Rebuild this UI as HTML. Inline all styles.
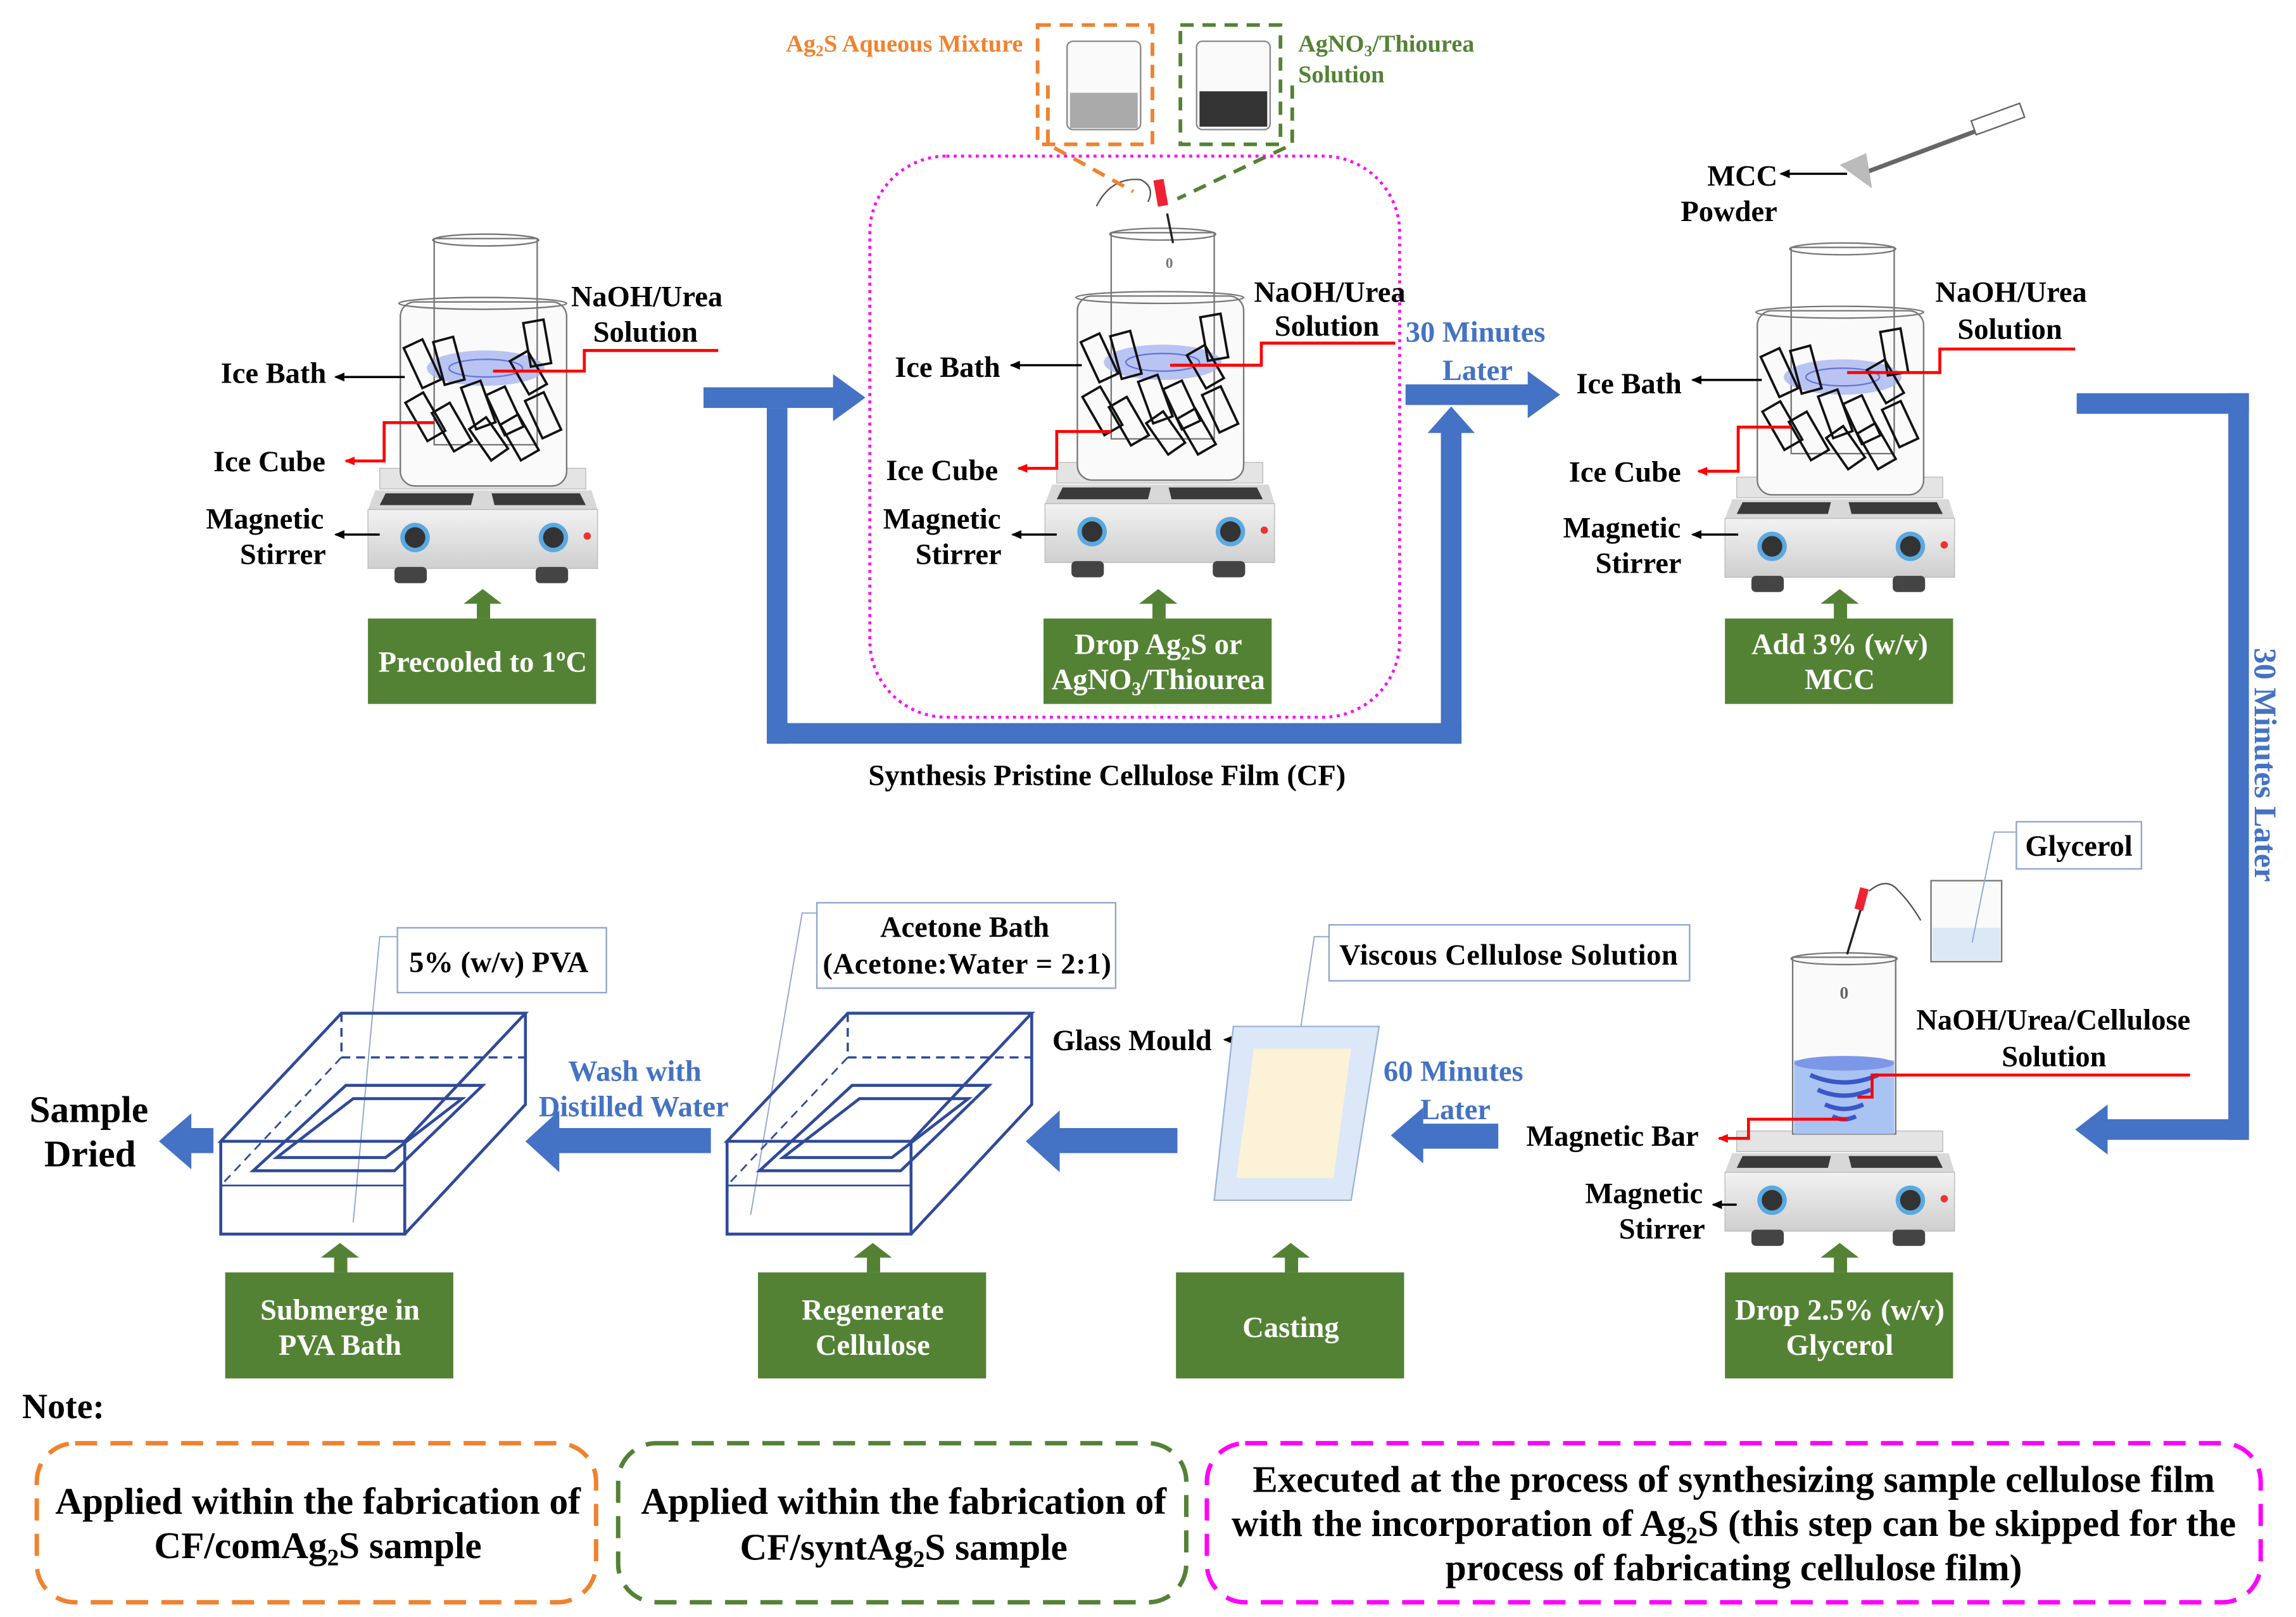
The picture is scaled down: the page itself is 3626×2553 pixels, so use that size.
<!DOCTYPE html>
<html><head><meta charset="utf-8"><style>
html,body{margin:0;padding:0;background:#fff}
svg{display:block}
text{font-family:"Liberation Serif",serif;font-weight:bold}
</style></head><body>
<svg width="3626" height="2553" viewBox="0 0 1560 1098" preserveAspectRatio="none" xmlns="http://www.w3.org/2000/svg">
<defs>
<linearGradient id="hp" x1="0" y1="0" x2="0" y2="1"><stop offset="0" stop-color="#f2f2f2"/><stop offset="1" stop-color="#cfcfcf"/></linearGradient>
<marker id="ab" markerWidth="8" markerHeight="8" refX="6" refY="4" orient="auto" markerUnits="userSpaceOnUse"><path d="M0,1 L7,4 L0,7z" fill="#000"/></marker>
<marker id="ar" markerWidth="8" markerHeight="8" refX="6" refY="4" orient="auto" markerUnits="userSpaceOnUse"><path d="M0,1 L7,4 L0,7z" fill="#f00"/></marker>
<g id="plate">
<rect x="258" y="318" width="140" height="14" fill="#e4e4e4" stroke="#bbb" stroke-width="0.6"/>
<path d="M255,333 L402,333 L406,346 L250,346z" fill="#d8d8d8"/>
<path d="M262,335 L322,335 L320,343 L258,343z" fill="#3a3a3a"/>
<path d="M334,335 L394,335 L398,343 L336,343z" fill="#3a3a3a"/>
<rect x="250" y="346" width="156" height="40" fill="url(#hp)" stroke="#bbb" stroke-width="0.6"/>
<circle cx="282" cy="365" r="10" fill="#5aa9e0"/><circle cx="282" cy="365" r="7" fill="#333"/>
<circle cx="376" cy="365" r="10" fill="#5aa9e0"/><circle cx="376" cy="365" r="7" fill="#333"/>
<circle cx="399" cy="364" r="2.5" fill="#e33"/>
<rect x="268" y="385" width="22" height="11" rx="3" fill="#444"/>
<rect x="364" y="385" width="22" height="11" rx="3" fill="#444"/>
</g>
<g id="cubes" fill="none" stroke="#111" stroke-width="1.6">
<rect x="280" y="232" width="14" height="30" transform="rotate(-25 287 247)"/>
<rect x="298" y="230" width="14" height="30" transform="rotate(-15 305 245)"/>
<rect x="358" y="218" width="14" height="30" transform="rotate(-10 365 233)"/>
<rect x="352" y="240" width="14" height="26" transform="rotate(-30 359 253)"/>
<rect x="282" y="268" width="14" height="30" transform="rotate(-30 289 283)"/>
<rect x="300" y="275" width="14" height="30" transform="rotate(-30 307 290)"/>
<rect x="318" y="260" width="14" height="30" transform="rotate(-20 325 275)"/>
<rect x="336" y="264" width="14" height="30" transform="rotate(-25 343 279)"/>
<rect x="325" y="285" width="14" height="26" transform="rotate(-35 332 298)"/>
<rect x="346" y="283" width="14" height="28" transform="rotate(-30 353 297)"/>
<rect x="362" y="268" width="14" height="28" transform="rotate(-25 369 282)"/>
</g>
<g id="st1">
<use href="#plate"/>
<rect x="272" y="205" width="113" height="125" rx="10" fill="#fafafa" stroke="#777" stroke-width="1"/>
<ellipse cx="328" cy="206" rx="57" ry="4" fill="none" stroke="#777"/>
<rect x="295" y="162" width="70" height="140" fill="none" stroke="#777" stroke-width="1"/>
<ellipse cx="330" cy="163" rx="36" ry="4" fill="none" stroke="#777"/>
<ellipse cx="330" cy="250" rx="40" ry="12" fill="#a9b6f0" opacity="0.8"/>
<ellipse cx="330" cy="250" rx="25" ry="6" fill="none" stroke="#6676d8"/>
<use href="#cubes"/>
</g>
</defs>

<use href="#st1"/>
<use href="#st1" transform="translate(460,-4)"/>
<use href="#st1" transform="translate(922,6)"/>
<use href="#plate" transform="translate(922,450)"/>
<rect x="1218" y="650" width="70" height="120" fill="#fafafa" stroke="#777"/>
<ellipse cx="1253" cy="651" rx="36" ry="4" fill="none" stroke="#777"/>
<rect x="1219" y="720" width="68" height="50" fill="#a9c3f3"/>
<ellipse cx="1253" cy="722" rx="34" ry="5" fill="#7d97e8"/>
<path d="M1230,730 Q1253,740 1276,730 M1235,740 Q1253,748 1271,740 M1240,750 Q1253,756 1266,750 M1245,758 Q1253,762 1261,758" stroke="#3c55c8" stroke-width="3" fill="none"/>
<text x="1250" y="678" font-size="12" fill="#666">0</text>
<line x1="1265" y1="615" x2="1255" y2="648" stroke="#222" stroke-width="1.5"/>
<rect x="1262" y="603" width="6" height="15" fill="#e23" transform="rotate(15 1265 610)"/>
<path d="M1270,605 q12,-10 20,0 q8,8 15,20" fill="none" stroke="#555"/>
<rect x="1312" y="598" width="48" height="55" fill="#fafafa" stroke="#777"/>
<rect x="1313" y="630" width="46" height="22" fill="#dbe8f6"/>
<line x1="793" y1="145" x2="797" y2="165" stroke="#222" stroke-width="1.5"/>
<rect x="785" y="122" width="7" height="18" fill="#e23" transform="rotate(-10 788 130)"/>
<path d="M745,140 q10,-20 30,-18 q10,5 5,15" fill="none" stroke="#555"/>
<text x="792" y="182" font-size="10" fill="#777">0</text>
<line x1="1265" y1="118" x2="1372" y2="78" stroke="#666" stroke-width="3"/>
<rect x="1340" y="76" width="35" height="10" fill="#fff" stroke="#666" transform="rotate(-20 1357 81)"/>
<path d="M1250,112 L1268,104 L1272,128z" fill="#bbb"/>

<rect x="705" y="17" width="78" height="81" fill="none" stroke="#f0822f" stroke-width="2.5" stroke-dasharray="9,6"/>
<rect x="802" y="17" width="68" height="81" fill="none" stroke="#548235" stroke-width="2.5" stroke-dasharray="9,6"/>
<rect x="725" y="28" width="50" height="60" rx="4" fill="#fafafa" stroke="#888"/>
<rect x="727" y="63" width="46" height="24" fill="#aaa"/>
<rect x="813" y="28" width="50" height="60" rx="4" fill="#fafafa" stroke="#888"/>
<rect x="815" y="62" width="46" height="24" fill="#333"/>
<path d="M712,58 L712,98 L770,130" fill="none" stroke="#f0822f" stroke-width="2.5" stroke-dasharray="9,6"/>
<path d="M878,58 L878,98 L800,135" fill="none" stroke="#548235" stroke-width="2.5" stroke-dasharray="9,6"/>
<text x="534" y="35" font-size="16.5" fill="#f0822f">Ag<tspan font-size="11" dy="3">2</tspan><tspan dy="-3">S Aqueous Mixture</tspan></text>
<text x="882" y="35" font-size="16.5" fill="#548235">AgNO<tspan font-size="11" dy="3">3</tspan><tspan dy="-3">/Thiourea</tspan></text>
<text x="882" y="56" font-size="16.5" fill="#548235">Solution</text>

<rect x="591" y="106" width="360" height="381" rx="52" fill="none" stroke="#f0f" stroke-width="2" stroke-dasharray="2,3"/>

<g fill="#4472c4">
<rect x="478" y="263" width="90" height="14"/><path d="M566,254 L588,270 L566,286z"/>
<rect x="521" y="277" width="14" height="228"/>
<rect x="521" y="491" width="472" height="14"/>
<rect x="979" y="292" width="14" height="213"/><path d="M970,294 L986,276 L1002,294z"/>
<rect x="955" y="261" width="85" height="14"/><path d="M1038,252 L1060,268 L1038,284z"/>
<rect x="1411" y="267" width="117" height="14"/>
<rect x="1514" y="267" width="14" height="507"/>
<rect x="1430" y="760" width="98" height="14"/><path d="M1432,750 L1410,767 L1432,784z"/>
<rect x="965" y="763" width="53" height="17"/><path d="M967,752 L945,771 L967,790z"/>
<rect x="718" y="766" width="82" height="17"/><path d="M720,754 L697,775 L720,796z"/>
<rect x="378" y="766" width="105" height="17"/><path d="M380,754 L357,775 L380,796z"/>
<rect x="128" y="766" width="17" height="17"/><path d="M130,756 L108,775 L130,794z"/>
</g>
<text font-size="20" fill="#4472c4"><tspan x="955" y="232">30 Minutes</tspan><tspan x="980" y="258">Later</tspan></text>
<text font-size="21.5" fill="#4472c4" transform="translate(1532,440) rotate(90)">30 Minutes Later</text>
<text font-size="20" fill="#4472c4"><tspan x="940" y="734">60 Minutes</tspan><tspan x="965" y="760">Later</tspan></text>
<text font-size="20" fill="#4472c4"><tspan x="386" y="734">Wash with</tspan><tspan x="366" y="758">Distilled Water</tspan></text>

<g fill="#548235">
<rect x="250" y="420" width="155" height="58"/>
<rect x="709" y="420" width="155" height="58"/>
<rect x="1172" y="420" width="155" height="58"/>
<rect x="153" y="864" width="155" height="72"/>
<rect x="515" y="864" width="155" height="72"/>
<rect x="799" y="864" width="155" height="72"/>
<rect x="1172" y="864" width="155" height="72"/>
<g id="ga"><rect x="324" y="408" width="9" height="12"/><path d="M315,410 L328,400 L341,410z"/></g>
<use href="#ga" transform="translate(459,0)"/><use href="#ga" transform="translate(922,0)"/>
<use href="#ga" transform="translate(-97,444)"/><use href="#ga" transform="translate(265,444)"/>
<use href="#ga" transform="translate(549,444)"/><use href="#ga" transform="translate(922,444)"/>
</g>
<g font-size="20" fill="#fff" text-anchor="middle">
<text x="328" y="456">Precooled to 1ºC</text>
<text x="787" y="444">Drop Ag<tspan font-size="13" dy="4">2</tspan><tspan dy="-4">S or</tspan></text>
<text x="787" y="468">AgNO<tspan font-size="13" dy="4">3</tspan><tspan dy="-4">/Thiourea</tspan></text>
<text x="1250" y="444">Add 3% (w/v)</text><text x="1250" y="468">MCC</text>
<text x="231" y="896">Submerge in</text><text x="231" y="920">PVA Bath</text>
<text x="593" y="896">Regenerate</text><text x="593" y="920">Cellulose</text>
<text x="877" y="908">Casting</text>
<text x="1250" y="896">Drop 2.5% (w/v)</text><text x="1250" y="920">Glycerol</text>
</g>

<g font-size="20" fill="#000">
<text x="388" y="208">NaOH/Urea</text><text x="403" y="232">Solution</text>
<text x="150" y="260">Ice Bath</text><text x="145" y="320">Ice Cube</text>
<text x="140" y="359">Magnetic</text><text x="163" y="383">Stirrer</text>
<text x="852" y="205">NaOH/Urea</text><text x="866" y="228">Solution</text>
<text x="608" y="256">Ice Bath</text><text x="602" y="326">Ice Cube</text>
<text x="600" y="359">Magnetic</text><text x="622" y="383">Stirrer</text>
<text x="1315" y="205">NaOH/Urea</text><text x="1330" y="230">Solution</text>
<text x="1071" y="267">Ice Bath</text><text x="1066" y="327">Ice Cube</text>
<text x="1062" y="365">Magnetic</text><text x="1084" y="389">Stirrer</text>
<text x="1160" y="126">MCC</text><text x="1142" y="150">Powder</text>
<text x="590" y="533">Synthesis Pristine Cellulose Film (CF)</text>
<text x="1302" y="699">NaOH/Urea/Cellulose</text><text x="1360" y="724">Solution</text>
<text x="1037" y="778">Magnetic Bar</text>
<text x="1077" y="817">Magnetic</text><text x="1100" y="841">Stirrer</text>
<text x="715" y="713">Glass Mould</text>
<text x="20" y="762" font-size="25.5">Sample</text><text x="30" y="792" font-size="25.5">Dried</text>
<text x="15" y="963" font-size="24">Note:</text>
</g>
<g stroke="#000" stroke-width="1.5" marker-end="url(#ab)">
<line x1="275" y1="256" x2="228" y2="256"/><line x1="258" y1="363" x2="228" y2="363"/>
<line x1="735" y1="248" x2="687" y2="248"/><line x1="718" y1="363" x2="688" y2="363"/>
<line x1="1197" y1="258" x2="1150" y2="258"/><line x1="1181" y1="363" x2="1150" y2="363"/>
<line x1="1255" y1="118" x2="1210" y2="118"/><line x1="1180" y1="818" x2="1164" y2="818"/>
<line x1="862" y1="706" x2="832" y2="706"/>
</g>
<g stroke="#f00" stroke-width="2" fill="none">
<polyline points="488,238 397,238 397,252 335,252"/>
<polyline points="295,287 261,287 261,313 235,313" marker-end="url(#ar)"/>
<polyline points="948,233 857,233 857,248 795,248"/>
<polyline points="755,293 718,293 718,318 692,318" marker-end="url(#ar)"/>
<polyline points="1410,237 1318,237 1318,253 1255,253"/>
<polyline points="1217,290 1181,290 1181,320 1154,320" marker-end="url(#ar)"/>
<polyline points="1488,730 1272,730 1272,745 1262,745"/>
<polyline points="1255,760 1188,760 1188,773 1168,773" marker-end="url(#ar)"/>
</g>

<g fill="#fff" stroke="#8ea5d1" stroke-width="1">
<rect x="1370" y="558" width="85" height="32"/>
<rect x="270" y="630" width="142" height="44"/>
<rect x="555" y="613" width="203" height="58"/>
<rect x="903" y="628" width="245" height="38"/>
</g>
<g stroke="#8ea5d1" stroke-width="0.8" fill="none">
<polyline points="1370,565 1355,565 1340,640"/>
<polyline points="270,636 258,636 240,830"/>
<polyline points="555,620 545,620 510,825"/>
<polyline points="903,636 893,636 873,770"/>
</g>
<g font-size="20" fill="#000">
<text x="1376" y="581">Glycerol</text>
<text x="278" y="660">5% (w/v) PVA</text>
<text x="598" y="636">Acetone Bath</text><text x="559" y="661" textLength="196">(Acetone:Water = 2:1)</text>
<text x="910" y="655" textLength="230">Viscous Cellulose Solution</text>
</g>

<g id="tray" fill="none" stroke="#2f4a9a" stroke-width="2">
<path d="M150,775 L232,688 L357,688 L275,775z"/>
<path d="M150,775 L150,838 L275,838 L275,775 M275,838 L357,750 L357,688"/>
<path d="M150,805 L275,805" stroke-width="1.2"/>
<path d="M232,688 L232,718 L357,718" stroke-dasharray="6,4" stroke-width="1.5"/>
<path d="M232,718 L150,805" stroke-dasharray="6,4" stroke-width="1.2"/>
<path d="M172,795 L235,737 L328,737 L268,795z"/>
<path d="M188,786 L240,746 L314,746 L262,786z"/>
</g>
<use href="#tray" transform="translate(344,0)"/>
<path d="M838,697 L937,697 L918,815 L825,815z" fill="#dce8f7" stroke="#9bb3d6"/>
<path d="M852,712 L918,712 L906,800 L840,800z" fill="#fbf2d8"/>

<rect x="25" y="980" width="380" height="108" rx="26" fill="none" stroke="#f0822f" stroke-width="3" stroke-dasharray="15,9"/>
<rect x="420" y="980" width="386" height="108" rx="26" fill="none" stroke="#548235" stroke-width="3" stroke-dasharray="15,9"/>
<rect x="820" y="980" width="716" height="108" rx="26" fill="none" stroke="#f0f" stroke-width="3" stroke-dasharray="15,9"/>
<g font-size="25.5" fill="#000" text-anchor="middle">
<text x="216" y="1028">Applied within the fabrication of</text>
<text x="216" y="1058">CF/comAg<tspan font-size="16" dy="5">2</tspan><tspan dy="-5">S sample</tspan></text>
<text x="614" y="1028">Applied within the fabrication of</text>
<text x="614" y="1059">CF/syntAg<tspan font-size="16" dy="5">2</tspan><tspan dy="-5">S sample</tspan></text>
<text x="1178" y="1013">Executed at the process of synthesizing sample cellulose film</text>
<text x="1178" y="1043">with the incorporation of Ag<tspan font-size="16" dy="5">2</tspan><tspan dy="-5">S (this step can be skipped for the</tspan></text>
<text x="1178" y="1073">process of fabricating cellulose film)</text>
</g>
</svg>
</body></html>
